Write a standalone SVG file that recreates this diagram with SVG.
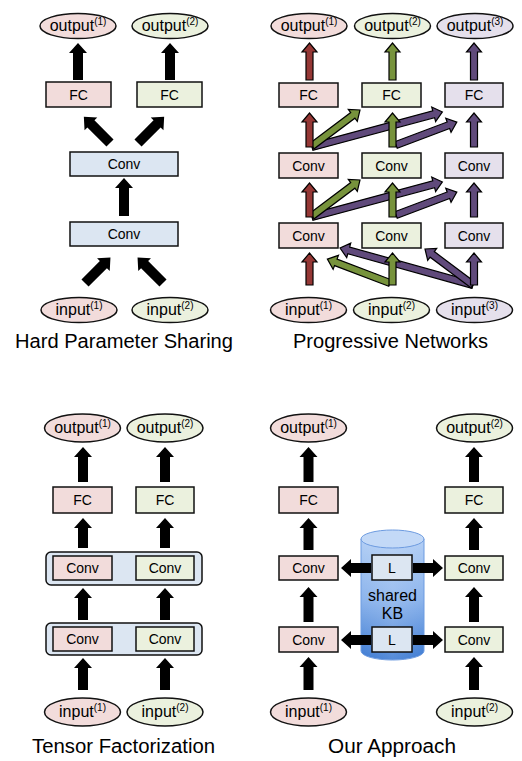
<svg xmlns="http://www.w3.org/2000/svg" width="522" height="761" viewBox="0 0 522 761">
<style>
.bx{stroke:#111;stroke-width:1.5}
.pk{fill:#f2dcdb}.gr{fill:#ebf1de}.lv{fill:#e5e0ec}.bl{fill:#dce6f2}
.t{font-family:"Liberation Sans",Arial,sans-serif;text-anchor:middle;fill:#000}
.lb{font-size:14px}
.el{font-size:16px}
.sp{font-size:10px}
.ti{font-size:20px}
.ab{fill:#000}
.ar{fill:#953735;stroke:#000;stroke-width:1.2;stroke-linejoin:miter}
.ag{fill:#77933c;stroke:#000;stroke-width:1.2;stroke-linejoin:miter}
.ap{fill:#604a7b;stroke:#000;stroke-width:1.2;stroke-linejoin:miter}
</style>
<defs>
<linearGradient id="cyl" x1="0" y1="0" x2="0" y2="1">
<stop offset="0" stop-color="#b3cff5"/>
<stop offset="0.5" stop-color="#8cb4ec"/>
<stop offset="1" stop-color="#3e7bd2"/>
</linearGradient>
<linearGradient id="cylside" x1="0" y1="0" x2="1" y2="0">
<stop offset="0" stop-color="#ffffff" stop-opacity="0"/>
<stop offset="0.5" stop-color="#ffffff" stop-opacity="0.12"/>
<stop offset="1" stop-color="#ffffff" stop-opacity="0"/>
</linearGradient>
</defs>
<rect width="522" height="761" fill="#fff"/>

<!-- ============ Hard Parameter Sharing ============ -->
<g id="hps-output1"><ellipse class="bx pk" cx="78" cy="26" rx="38" ry="12.5"/><text class="t el" x="78" y="31">output<tspan class="sp" dy="-6">(1)</tspan></text></g>
<g id="hps-output2"><ellipse class="bx gr" cx="170" cy="26" rx="38" ry="12.5"/><text class="t el" x="170" y="31">output<tspan class="sp" dy="-6">(2)</tspan></text></g>
<g id="hps-fc1"><rect class="bx pk" x="46" y="82" width="65" height="25"/><text class="t lb" x="78.5" y="99.5">FC</text></g>
<g id="hps-fc2"><rect class="bx gr" x="137" y="82" width="65" height="25"/><text class="t lb" x="169.5" y="99.5">FC</text></g>
<g id="hps-conv1"><rect class="bx bl" x="70" y="152" width="108" height="24"/><text class="t lb" x="124" y="169">Conv</text></g>
<g id="hps-conv2"><rect class="bx bl" x="70" y="222" width="108" height="24"/><text class="t lb" x="124" y="239">Conv</text></g>
<g id="hps-input1"><ellipse class="bx pk" cx="79" cy="310" rx="38" ry="12.5"/><text class="t el" x="79" y="315">input<tspan class="sp" dy="-6">(1)</tspan></text></g>
<g id="hps-input2"><ellipse class="bx gr" cx="170" cy="310" rx="38" ry="12.5"/><text class="t el" x="170" y="315">input<tspan class="sp" dy="-6">(2)</tspan></text></g>
<text class="t ti" x="124" y="348" textLength="218" lengthAdjust="spacingAndGlyphs">Hard Parameter Sharing</text>

<!-- ============ Progressive Networks ============ -->
<g id="pn-output1"><ellipse class="bx pk" cx="309" cy="26" rx="38" ry="12.5"/><text class="t el" x="309" y="31">output<tspan class="sp" dy="-6">(1)</tspan></text></g>
<g id="pn-output2"><ellipse class="bx gr" cx="392.5" cy="26" rx="38" ry="12.5"/><text class="t el" x="392.5" y="31">output<tspan class="sp" dy="-6">(2)</tspan></text></g>
<g id="pn-output3"><ellipse class="bx lv" cx="475" cy="26" rx="38" ry="12.5"/><text class="t el" x="475" y="31">output<tspan class="sp" dy="-6">(3)</tspan></text></g>
<g id="pn-fc1"><rect class="bx pk" x="279" y="83" width="59" height="24"/><text class="t lb" x="308.5" y="100">FC</text></g>
<g id="pn-fc2"><rect class="bx gr" x="362" y="83" width="59" height="24"/><text class="t lb" x="391.5" y="100">FC</text></g>
<g id="pn-fc3"><rect class="bx lv" x="445" y="83" width="58" height="24"/><text class="t lb" x="474" y="100">FC</text></g>
<g id="pn-conv1a"><rect class="bx pk" x="279" y="153" width="59" height="25"/><text class="t lb" x="308.5" y="170.5">Conv</text></g>
<g id="pn-conv2a"><rect class="bx gr" x="362" y="153" width="59" height="25"/><text class="t lb" x="391.5" y="170.5">Conv</text></g>
<g id="pn-conv3a"><rect class="bx lv" x="445" y="153" width="58" height="25"/><text class="t lb" x="474" y="170.5">Conv</text></g>
<g id="pn-conv1b"><rect class="bx pk" x="279" y="223" width="59" height="25"/><text class="t lb" x="308.5" y="240.5">Conv</text></g>
<g id="pn-conv2b"><rect class="bx gr" x="362" y="223" width="59" height="25"/><text class="t lb" x="391.5" y="240.5">Conv</text></g>
<g id="pn-conv3b"><rect class="bx lv" x="445" y="223" width="58" height="25"/><text class="t lb" x="474" y="240.5">Conv</text></g>
<g id="pn-input1"><ellipse class="bx pk" cx="308.5" cy="310" rx="38" ry="12.5"/><text class="t el" x="308.5" y="315">input<tspan class="sp" dy="-6">(1)</tspan></text></g>
<g id="pn-input2"><ellipse class="bx gr" cx="391.5" cy="310" rx="38" ry="12.5"/><text class="t el" x="391.5" y="315">input<tspan class="sp" dy="-6">(2)</tspan></text></g>
<g id="pn-input3"><ellipse class="bx lv" cx="474.5" cy="310" rx="38" ry="12.5"/><text class="t el" x="474.5" y="315">input<tspan class="sp" dy="-6">(3)</tspan></text></g>
<text class="t ti" x="390.5" y="348" textLength="195" lengthAdjust="spacingAndGlyphs">Progressive Networks</text>

<!-- ============ Tensor Factorization ============ -->
<g id="tf-output1"><ellipse class="bx pk" cx="82.5" cy="428" rx="38" ry="14"/><text class="t el" x="82.5" y="433">output<tspan class="sp" dy="-6">(1)</tspan></text></g>
<g id="tf-output2"><ellipse class="bx gr" cx="165" cy="428" rx="38" ry="14"/><text class="t el" x="165" y="433">output<tspan class="sp" dy="-6">(2)</tspan></text></g>
<g id="tf-fc1"><rect class="bx pk" x="53" y="487" width="59" height="26"/><text class="t lb" x="82.5" y="505">FC</text></g>
<g id="tf-fc2"><rect class="bx gr" x="136" y="487" width="58" height="26"/><text class="t lb" x="165" y="505">FC</text></g>
<g id="tf-layer1">
<rect class="bx bl" x="46" y="552" width="156" height="33" rx="5"/>
<rect class="bx pk" x="53" y="556" width="59" height="24"/><text class="t lb" x="82.5" y="573">Conv</text>
<rect class="bx gr" x="136" y="556" width="58" height="24"/><text class="t lb" x="165" y="573">Conv</text>
</g>
<g id="tf-layer2">
<rect class="bx bl" x="46" y="623" width="156" height="32" rx="5"/>
<rect class="bx pk" x="53" y="627" width="59" height="24"/><text class="t lb" x="82.5" y="644">Conv</text>
<rect class="bx gr" x="136" y="627" width="58" height="24"/><text class="t lb" x="165" y="644">Conv</text>
</g>
<g id="tf-input1"><ellipse class="bx pk" cx="82.5" cy="712" rx="38" ry="14"/><text class="t el" x="82.5" y="717">input<tspan class="sp" dy="-6">(1)</tspan></text></g>
<g id="tf-input2"><ellipse class="bx gr" cx="165" cy="712" rx="38" ry="14"/><text class="t el" x="165" y="717">input<tspan class="sp" dy="-6">(2)</tspan></text></g>
<text class="t ti" x="123.5" y="753" textLength="183" lengthAdjust="spacingAndGlyphs">Tensor Factorization</text>

<!-- ============ Our Approach ============ -->
<g id="oa-kb">
<path d="M361,539 L361,651 A31.5,9 0 0 0 424,651 L424,539 Z" fill="url(#cyl)" stroke="#6d9be0" stroke-width="1"/>
<path d="M361,539 L361,651 A31.5,9 0 0 0 424,651 L424,539 Z" fill="url(#cylside)"/>
<ellipse cx="392.5" cy="539" rx="31.5" ry="9" fill="#c3d9f7" stroke="#6d9be0" stroke-width="1"/>
<text class="t" x="392.5" y="601" font-size="16" fill="#111">shared</text>
<text class="t" x="392.5" y="619" font-size="16" fill="#111">KB</text>
</g>
<g id="oa-l1"><rect class="bx bl" x="372" y="555" width="40" height="25"/><text class="t lb" x="392" y="572.5">L</text></g>
<g id="oa-l2"><rect class="bx bl" x="372" y="627" width="40" height="25"/><text class="t lb" x="392" y="644.5">L</text></g>
<g id="oa-output1"><ellipse class="bx pk" cx="308.5" cy="428" rx="38" ry="14"/><text class="t el" x="308.5" y="433">output<tspan class="sp" dy="-6">(1)</tspan></text></g>
<g id="oa-output2"><ellipse class="bx gr" cx="474.5" cy="428" rx="38" ry="14"/><text class="t el" x="474.5" y="433">output<tspan class="sp" dy="-6">(2)</tspan></text></g>
<g id="oa-fc1"><rect class="bx pk" x="279" y="487" width="59" height="26"/><text class="t lb" x="308.5" y="505">FC</text></g>
<g id="oa-fc2"><rect class="bx gr" x="445" y="487" width="58" height="26"/><text class="t lb" x="474" y="505">FC</text></g>
<g id="oa-conv1a"><rect class="bx pk" x="279" y="556" width="59" height="24"/><text class="t lb" x="308.5" y="573">Conv</text></g>
<g id="oa-conv2a"><rect class="bx gr" x="445" y="556" width="58" height="24"/><text class="t lb" x="474" y="573">Conv</text></g>
<g id="oa-conv1b"><rect class="bx pk" x="279" y="627" width="59" height="25"/><text class="t lb" x="308.5" y="644.5">Conv</text></g>
<g id="oa-conv2b"><rect class="bx gr" x="445" y="627" width="58" height="25"/><text class="t lb" x="474" y="644.5">Conv</text></g>
<g id="oa-input1"><ellipse class="bx pk" cx="308.5" cy="712" rx="38" ry="14"/><text class="t el" x="308.5" y="717">input<tspan class="sp" dy="-6">(1)</tspan></text></g>
<g id="oa-input2"><ellipse class="bx gr" cx="474.5" cy="712" rx="38" ry="14"/><text class="t el" x="474.5" y="717">input<tspan class="sp" dy="-6">(2)</tspan></text></g>
<text class="t ti" x="392" y="753" textLength="128" lengthAdjust="spacingAndGlyphs">Our Approach</text>

<!-- ============ Connectors ============ -->
<g id="connectors">
<!-- Hard Parameter Sharing -->
<polygon class="ab" points="73,80 73,53 69,53 78,43 87,53 83,53 83,80"/>
<polygon class="ab" points="165,80 165,53 161,53 170,43 179,53 175,53 175,80"/>
<polygon class="ab" points="0,-5 27,-5 27,-9 37,0 27,9 27,5 0,5" transform="translate(110,143) rotate(-135)"/>
<polygon class="ab" points="0,-5 27,-5 27,-9 37,0 27,9 27,5 0,5" transform="translate(138,143) rotate(-45)"/>
<polygon class="ab" points="119,216 119,188 115,188 124,178 133,188 129,188 129,216"/>
<polygon class="ab" points="0,-5 26,-5 26,-9 36,0 26,9 26,5 0,5" transform="translate(85,283) rotate(-45)"/>
<polygon class="ab" points="0,-5 26,-5 26,-9 36,0 26,9 26,5 0,5" transform="translate(163,283) rotate(-135)"/>

<!-- Progressive Networks: lateral connections -->
<polygon class="ap" points="0,-3.5 126,-3.5 126,-7.5 135,0 126,7.5 126,3.5 0,3.5" transform="translate(312,147) rotate(-15.07)"/>
<polygon class="ap" points="0,-3.5 56,-3.5 56,-7.5 65,0 56,7.5 56,3.5 0,3.5" transform="translate(396,145) rotate(-20.66)"/>
<polygon class="ag" points="0,-3.5 51,-3.5 51,-7.5 60,0 51,7.5 51,3.5 0,3.5" transform="translate(312,146) rotate(-36.87)"/>
<polygon class="ap" points="0,-3.5 126,-3.5 126,-7.5 135,0 126,7.5 126,3.5 0,3.5" transform="translate(312,217) rotate(-15.07)"/>
<polygon class="ap" points="0,-3.5 56,-3.5 56,-7.5 65,0 56,7.5 56,3.5 0,3.5" transform="translate(396,215) rotate(-20.66)"/>
<polygon class="ag" points="0,-3.5 51,-3.5 51,-7.5 60,0 51,7.5 51,3.5 0,3.5" transform="translate(312,216) rotate(-36.87)"/>
<polygon class="ap" points="0,-3.5 129,-3.5 129,-7.5 138,0 129,7.5 129,3.5 0,3.5" transform="translate(473,285) rotate(-164.45)"/>
<polygon class="ap" points="0,-3.5 51,-3.5 51,-7.5 60,0 51,7.5 51,3.5 0,3.5" transform="translate(473,285) rotate(-143.13)"/>
<polygon class="ag" points="0,-3.5 58,-3.5 58,-7.5 67,0 58,7.5 58,3.5 0,3.5" transform="translate(390,283) rotate(-159.15)"/>
<!-- Progressive Networks: columns -->
<polygon class="ar" points="306,80 306,52 302,52 309.5,43 317,52 313,52 313,80"/>
<polygon class="ar" points="306,147 306,122 302,122 309.5,113 317,122 313,122 313,147"/>
<polygon class="ar" points="306,217 306,192 302,192 309.5,183 317,192 313,192 313,217"/>
<polygon class="ar" points="306,285 306,262 302,262 309.5,253 317,262 313,262 313,285"/>
<polygon class="ag" points="389,80 389,52 385,52 392.5,43 400,52 396,52 396,80"/>
<polygon class="ag" points="389,147 389,122 385,122 392.5,113 400,122 396,122 396,147"/>
<polygon class="ag" points="389,217 389,192 385,192 392.5,183 400,192 396,192 396,217"/>
<polygon class="ag" points="389,285 389,262 385,262 392.5,253 400,262 396,262 396,285"/>
<polygon class="ap" points="470.5,80 470.5,52 466.5,52 474,43 481.5,52 477.5,52 477.5,80"/>
<polygon class="ap" points="470.5,147 470.5,122 466.5,122 474,113 481.5,122 477.5,122 477.5,147"/>
<polygon class="ap" points="470.5,217 470.5,192 466.5,192 474,183 481.5,192 477.5,192 477.5,217"/>
<polygon class="ap" points="470.5,285 470.5,262 466.5,262 474,253 481.5,262 477.5,262 477.5,285"/>

<!-- Tensor Factorization -->
<polygon class="ab" points="78,482 78,457 74,457 83,447 92,457 88,457 88,482"/>
<polygon class="ab" points="160,482 160,457 156,457 165,447 174,457 170,457 170,482"/>
<polygon class="ab" points="78,548 78,528 74,528 83,518 92,528 88,528 88,548"/>
<polygon class="ab" points="160,548 160,528 156,528 165,518 174,528 170,528 170,548"/>
<polygon class="ab" points="78,620 78,598 74,598 83,588 92,598 88,598 88,620"/>
<polygon class="ab" points="160,620 160,598 156,598 165,588 174,598 170,598 170,620"/>
<polygon class="ab" points="78,690 78,668 74,668 83,658 92,668 88,668 88,690"/>
<polygon class="ab" points="160,690 160,668 156,668 165,658 174,668 170,668 170,690"/>

<!-- Our Approach -->
<polygon class="ab" points="303.5,482 303.5,457 299.5,457 308.5,447 317.5,457 313.5,457 313.5,482"/>
<polygon class="ab" points="469,482 469,457 465,457 474,447 483,457 479,457 479,482"/>
<polygon class="ab" points="303.5,550 303.5,528 299.5,528 308.5,518 317.5,528 313.5,528 313.5,550"/>
<polygon class="ab" points="469,550 469,528 465,528 474,518 483,528 479,528 479,550"/>
<polygon class="ab" points="303.5,622 303.5,597 299.5,597 308.5,587 317.5,597 313.5,597 313.5,622"/>
<polygon class="ab" points="469,622 469,597 465,597 474,587 483,597 479,597 479,622"/>
<polygon class="ab" points="303.5,690 303.5,667 299.5,667 308.5,657 317.5,667 313.5,667 313.5,690"/>
<polygon class="ab" points="469,690 469,667 465,667 474,657 483,667 479,667 479,690"/>
<polygon class="ab" points="371,563 351,563 351,559 341,568 351,577 351,573 371,573"/>
<polygon class="ab" points="413,563 433,563 433,559 443,568 433,577 433,573 413,573"/>
<polygon class="ab" points="371,635 351,635 351,631 341,640 351,649 351,645 371,645"/>
<polygon class="ab" points="413,635 433,635 433,631 443,640 433,649 433,645 413,645"/>
</g>
</svg>
